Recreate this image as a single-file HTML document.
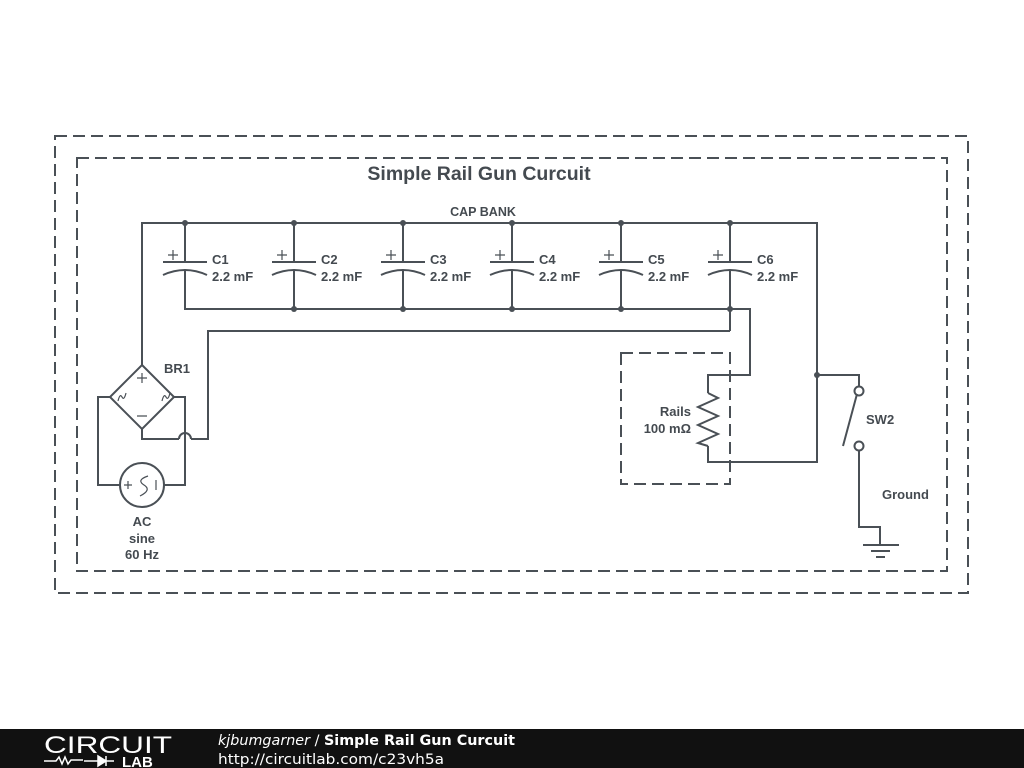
<!DOCTYPE html>
<html><head><style>
html,body{margin:0;padding:0;width:1024px;height:768px;background:#fff;overflow:hidden}
svg{display:block}
</style></head><body>
<svg width="1024" height="768" viewBox="0 0 1024 768" font-family="Liberation Sans, sans-serif">
<g fill="none" stroke="#4a5056" stroke-width="2" stroke-dasharray="12,6">
<rect x="55" y="136" width="913" height="457"/>
<rect x="77" y="158" width="870" height="413"/>
<rect x="621" y="353" width="109" height="131"/>
</g>
<text x="479" y="180" text-anchor="middle" font-size="19.5" font-weight="bold" fill="#444a50">Simple Rail Gun Curcuit</text>
<text x="483" y="216" text-anchor="middle" font-size="12.5" font-weight="bold" fill="#444a50">CAP BANK</text>
<g fill="none" stroke="#4a5056" stroke-width="2">
<polyline points="142,365 142,223 817,223 817,462 708,462 708,446"/>
<polyline points="185,223 185,262"/><polyline points="185,271 185,309 750,309 750,375 708,375 708,393"/>
<path d="M294,223V262M294,271V309M403,223V262M403,271V309M512,223V262M512,271V309M621,223V262M621,271V309M730,223V262M730,271V331"/>
<polyline points="730,331 208,331 208,439 191,439"/>
<path d="M179,439 A6,6 0 0 1 191,439"/>
<polyline points="142,429 142,439 179,439"/>
<polygon points="142,365 174,397 142,429 110,397"/>
<polyline points="110,397 98,397 98,485 120,485"/>
<polyline points="174,397 185,397 185,485 164,485"/>
<circle cx="142" cy="485" r="22"/>
<path d="M708,393 L718,398 L698,407 L718,416 L698,425 L718,434 L698,443 L708,446"/>
<polyline points="817,375 859,375 859,386"/>
<circle cx="859" cy="391" r="4.5" fill="#fff"/>
<circle cx="859" cy="446" r="4.5" fill="#fff"/>
<line x1="857" y1="394" x2="843" y2="446"/>
<polyline points="859,451 859,527 880,527 880,545"/>
<path d="M863,545H899M871,551H890M876,557H885"/>
</g>
<g stroke="#4a5056" stroke-width="2" fill="none">
<path d="M163,262H207M163,275Q185,265 207,275"/>
<path d="M272,262H316M272,275Q294,265 316,275"/>
<path d="M381,262H425M381,275Q403,265 425,275"/>
<path d="M490,262H534M490,275Q512,265 534,275"/>
<path d="M599,262H643M599,275Q621,265 643,275"/>
<path d="M708,262H752M708,275Q730,265 752,275"/>
</g>
<g stroke="#4a5056" stroke-width="1.2" fill="none">
<path d="M168,255h10M173,250v10M277,255h10M282,250v10M386,255h10M391,250v10M495,255h10M500,250v10M604,255h10M609,250v10M713,255h10M718,250v10"/>
<path d="M137,378h10M142,373v10M137,416h10"/>
<path d="M118,401q2,-8 4,-4t4,-4M162,401q2,-8 4,-4t4,-4"/>
<path d="M124,485h8M128,481v8M156,480v10M148,476q-12,4 -4,9t-4,11"/>
</g>
<g fill="#4a5056">
<circle cx="185" cy="223" r="3"/><circle cx="294" cy="223" r="3"/><circle cx="403" cy="223" r="3"/><circle cx="512" cy="223" r="3"/><circle cx="621" cy="223" r="3"/><circle cx="730" cy="223" r="3"/>
<circle cx="294" cy="309" r="3"/><circle cx="403" cy="309" r="3"/><circle cx="512" cy="309" r="3"/><circle cx="621" cy="309" r="3"/><circle cx="730" cy="309" r="3"/>
<circle cx="817" cy="375" r="3"/>
</g>
<g font-size="13" font-weight="bold" fill="#444a50">
<text x="212" y="264">C1</text><text x="212" y="281">2.2 mF</text>
<text x="321" y="264">C2</text><text x="321" y="281">2.2 mF</text>
<text x="430" y="264">C3</text><text x="430" y="281">2.2 mF</text>
<text x="539" y="264">C4</text><text x="539" y="281">2.2 mF</text>
<text x="648" y="264">C5</text><text x="648" y="281">2.2 mF</text>
<text x="757" y="264">C6</text><text x="757" y="281">2.2 mF</text>
<text x="164" y="373">BR1</text>
<text x="691" y="416" text-anchor="end">Rails</text>
<text x="691" y="433" text-anchor="end">100 mΩ</text>
<text x="866" y="424">SW2</text>
<text x="882" y="499">Ground</text>
<text x="142" y="526" text-anchor="middle">AC</text>
<text x="142" y="543" text-anchor="middle">sine</text>
<text x="142" y="559" text-anchor="middle">60 Hz</text>
</g>
<rect x="0" y="729" width="1024" height="39" fill="#111"/>
<text x="44" y="753" font-size="24" fill="#fff" textLength="128" lengthAdjust="spacingAndGlyphs" font-weight="normal">CIRCUIT</text>
<path d="M44,761h12l3,-4l3,7l3,-7l3,7l3,-4h12" stroke="#fff" stroke-width="1.5" fill="none"/>
<path d="M84,761h30M98,756v10l8,-5z M106,756v10" stroke="#fff" stroke-width="1.5" fill="#fff"/>
<text x="122" y="767" font-size="15" font-weight="bold" fill="#fff">LAB</text>
<text x="218" y="745" font-size="14.5" fill="#fff" font-family="DejaVu Sans, sans-serif" textLength="297" lengthAdjust="spacingAndGlyphs"><tspan font-style="italic">kjbumgarner</tspan> / <tspan font-weight="bold">Simple Rail Gun Curcuit</tspan></text>
<text x="218" y="764" font-size="14.5" fill="#fff" font-family="DejaVu Sans, sans-serif" textLength="226" lengthAdjust="spacingAndGlyphs">http://circuitlab.com/c23vh5a</text>
</svg>
</body></html>
